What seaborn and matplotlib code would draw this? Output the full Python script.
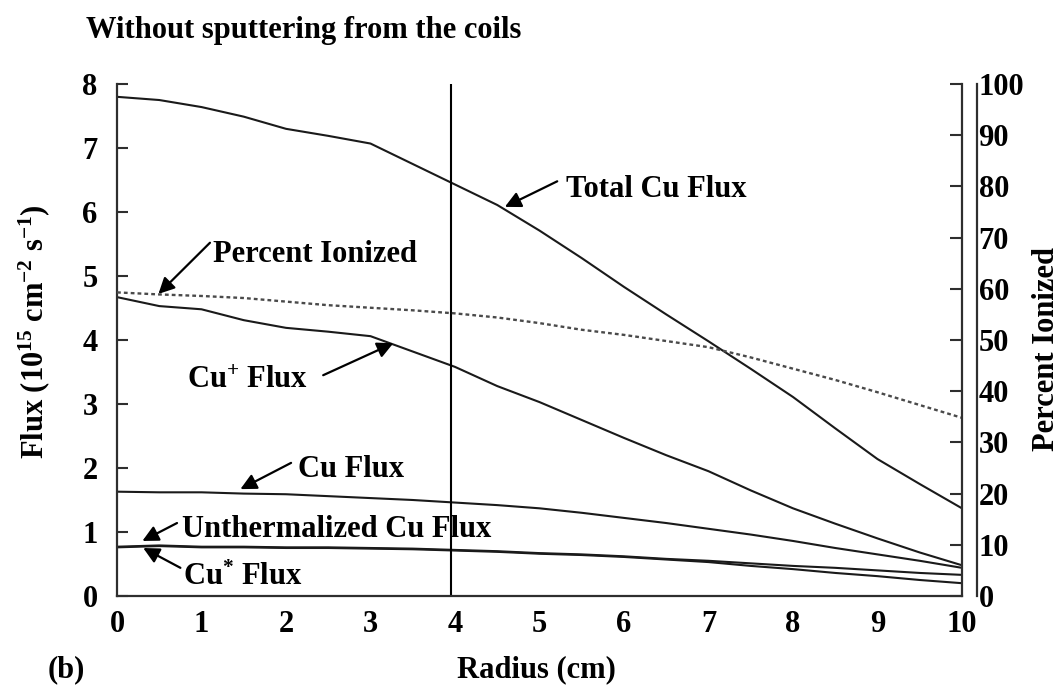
import matplotlib
matplotlib.use("Agg")
import matplotlib.pyplot as plt
import pandas as pd
import seaborn as sns

# Radial profiles of copper fluxes at the substrate (cm, 1e15 cm^-2 s^-1, %)
radius = [0.0, 0.5, 1.0, 1.5, 2.0, 2.5, 3.0, 3.5, 4.0, 4.5, 5.0,
          5.5, 6.0, 6.5, 7.0, 7.5, 8.0, 8.5, 9.0, 9.5, 10.0]
total_cu_flux = [7.80, 7.75, 7.64, 7.49, 7.30, 7.19, 7.07, 6.75, 6.43, 6.11, 5.71,
                 5.28, 4.83, 4.40, 3.98, 3.55, 3.11, 2.62, 2.14, 1.75, 1.37]
cu_ion_flux = [4.67, 4.53, 4.48, 4.31, 4.19, 4.13, 4.06, 3.82, 3.58, 3.28, 3.03,
               2.75, 2.47, 2.20, 1.95, 1.65, 1.37, 1.13, 0.90, 0.68, 0.48]
cu_flux = [1.63, 1.62, 1.62, 1.60, 1.59, 1.56, 1.53, 1.50, 1.46, 1.42, 1.37,
           1.30, 1.22, 1.14, 1.05, 0.96, 0.86, 0.75, 0.65, 0.55, 0.44]
unthermalized_flux = [0.77, 0.79, 0.77, 0.77, 0.76, 0.76, 0.75, 0.74, 0.72, 0.70, 0.67,
                      0.65, 0.62, 0.58, 0.55, 0.51, 0.47, 0.44, 0.40, 0.36, 0.33]
cu_excited_flux = [0.76, 0.78, 0.76, 0.76, 0.75, 0.75, 0.74, 0.73, 0.71, 0.69, 0.66,
                   0.64, 0.61, 0.57, 0.53, 0.47, 0.42, 0.36, 0.31, 0.25, 0.20]
percent_ionized = [59.3, 58.9, 58.6, 58.2, 57.5, 56.8, 56.3, 55.8, 55.2, 54.4, 53.3,
                   52.0, 51.0, 49.8, 48.6, 46.6, 44.4, 42.2, 39.8, 37.3, 34.8]
marker_radius = 3.95

flux = pd.DataFrame({
    "radius": radius,
    "total": total_cu_flux,
    "ion": cu_ion_flux,
    "neutral": cu_flux,
    "unthermalized": unthermalized_flux,
    "excited": cu_excited_flux,
    "percent": percent_ionized,
})

sns.set_theme(style="white")
plt.rcParams["font.family"] = ["Liberation Serif", "DejaVu Serif"]
plt.rcParams["font.weight"] = "bold"
plt.rcParams["text.color"] = "black"
plt.rcParams["xtick.color"] = "black"
plt.rcParams["ytick.color"] = "black"
plt.rcParams["mathtext.fontset"] = "custom"
plt.rcParams["mathtext.rm"] = "Liberation Serif:bold"
plt.rcParams["mathtext.it"] = "Liberation Serif:bold"
plt.rcParams["mathtext.bf"] = "Liberation Serif:bold"
plt.rcParams["mathtext.default"] = "bf"

FS = 22
INK = "#1a1a1a"
SPINE = "#2e2e2e"

fig = plt.figure(figsize=(10.6, 6.91), dpi=100)
ax = fig.add_axes([0.1104, 0.1375, 0.7971, 0.7409])

for col in ["total", "ion", "neutral", "unthermalized", "excited"]:
    sns.lineplot(data=flux, x="radius", y=col, ax=ax, color=INK, lw=1.5)

ax.axvline(marker_radius, color="black", lw=1.5)

ax.set_xlim(0, 10)
ax.set_ylim(0, 8)
ax.set_xlabel("")
ax.set_ylabel("")
ax.set_xticks(range(0, 11))
ax.set_xticks([2, 4, 6, 8], minor=True)
ax.set_yticks(range(0, 9))
ax.tick_params(axis="x", which="major", length=0, pad=10, labelsize=FS)
ax.tick_params(axis="x", which="minor", direction="in", length=6, width=1.5,
               color=SPINE, bottom=True)
ax.tick_params(axis="y", direction="in", length=8, width=1.5, color=SPINE,
               pad=14, labelsize=FS, left=True)
for side in ["left", "bottom", "right"]:
    ax.spines[side].set_color(SPINE)
    ax.spines[side].set_linewidth(1.6)
ax.spines["top"].set_visible(False)
ax.spines["right"].set_position(("outward", 11))

twin = ax.twinx()
sns.lineplot(data=flux, x="radius", y="percent", ax=twin, color="#4a4a4a",
             lw=1.7, linestyle=(0, (1.6, 1.3)))
twin.set_ylim(0, 100)
twin.set_xlim(0, 10)
twin.set_ylabel("")
twin.set_yticks(range(0, 101, 10))
twin.tick_params(axis="y", direction="in", length=9, width=1.5, color=SPINE,
                 pad=12, labelsize=FS, right=True)
for side in ["left", "bottom", "top"]:
    twin.spines[side].set_visible(False)
twin.spines["right"].set_color(SPINE)
twin.spines["right"].set_linewidth(1.6)

arrow = dict(arrowstyle="-|>", color="black", lw=1.6, mutation_scale=24,
             shrinkA=0, shrinkB=0)
labels = [
    ("Total Cu Flux", (5.31, 6.23), (5.21, 6.48), (4.59, 6.08)),
    ("Percent Ionized", (1.14, 5.22), (1.10, 5.52), (0.49, 4.72)),
    ("Cu$^{+}$ Flux", (0.83, 3.25), (2.44, 3.45), (3.27, 3.95)),
    ("Cu Flux", (2.14, 1.86), (2.06, 2.08), (1.46, 1.67)),
    ("Unthermalized Cu Flux", (0.77, 0.92), (0.71, 1.14), (0.30, 0.86)),
    ("Cu$^{*}$ Flux", (0.78, 0.17), (0.75, 0.44), (0.31, 0.75)),
]
for text, pos, tail, head in labels:
    ax.text(*pos, text, fontsize=FS, ha="left", va="baseline", color="black")
    ax.annotate("", xy=head, xytext=tail, arrowprops=arrow)

fig.text(86 / 1060, 1 - 38 / 691, "Without sputtering from the coils",
         fontsize=FS, ha="left", va="baseline")
fig.text(48 / 1060, 1 - 677 / 691, "(b)", fontsize=FS, ha="left", va="baseline")
fig.text(536 / 1060, 1 - 677 / 691, "Radius (cm)", fontsize=FS, ha="center",
         va="baseline")
fig.text(34 / 1060, 1 - 332 / 691,
         "Flux (10$^{15}$ cm$^{-2}$ s$^{-1}$)", fontsize=FS, rotation=90,
         ha="center", va="center")
fig.text(1046 / 1060, 1 - 349 / 691, "Percent Ionized", fontsize=FS,
         rotation=90, ha="center", va="center")

fig.savefig("out.png", dpi=100)
